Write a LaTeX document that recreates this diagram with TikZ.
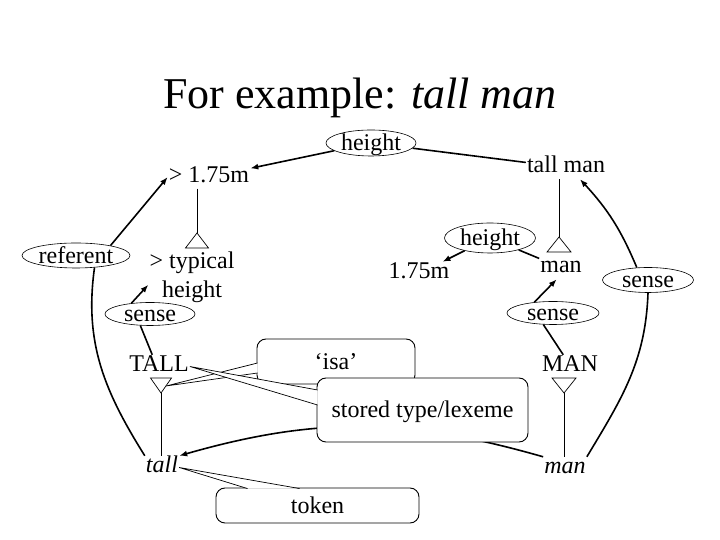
\documentclass[tikz,border=0pt]{standalone}
\usepackage{fontspec}
\setmainfont{Liberation Serif}
\usetikzlibrary{shapes.geometric, arrows.meta, calc}

\begin{document}
\begin{tikzpicture}[x=1pt, y=1pt,
        word/.style={font=\fontsize{24}{29}\selectfont, inner sep=1pt, text height=16pt, text depth=5pt},
        rel/.style={ellipse, draw, fill=white, line width=0.6pt, font=\fontsize{24}{29}\selectfont, inner xsep=0pt, inner ysep=-2pt, text height=18pt, text depth=2pt, minimum width=91pt, minimum height=25pt},
        note/.style={rectangle, draw, fill=white, line width=0.9pt, rounded corners=9pt, font=\fontsize{24}{29}\selectfont, text height=18pt, text depth=2pt},
        relline/.style={line width=1.6pt},
        arrline/.style={relline, -{Latex[length=8pt, width=6pt]}},
        isa/.style={line width=0.7pt},
        pointer/.style={line width=0.7pt, fill=white}]

    \useasboundingbox (0,0) rectangle (720,540);

    % Title
    \node[font=\fontsize{44}{50}\selectfont, anchor=base] (title) at (360,431) {For example: \textit{tall man}};

    % Words and concepts
    \node[word, anchor=base] (gt175) at (209,357.5) {> 1.75m};
    \node[word, anchor=base] (tallman) at (566,367) {tall man};
    \node[font=\fontsize{24}{29}\selectfont, inner sep=1pt, align=center] (gttyp) at (192,263) {> typical\\height};
    \node[word, anchor=base] (v175) at (419,261) {1.75m};
    \node[word, anchor=base] (man) at (561,267) {man};
    \node[word, anchor=base] (TALL) at (159,168) {TALL};
    \node[word, anchor=base] (MAN) at (570,168) {MAN};
    \node[word, anchor=base] (tall) at (162,67) {\textit{tall}};
    \node[word, anchor=base] (manw) at (565,66) {\textit{man}};

    % Relation labels
    \node[rel, minimum width=90pt, minimum height=26pt] (heightA) at (371,397) {height};
    \node[rel, minimum width=108pt] (referent) at (76,284.5) {referent};
    \node[rel, minimum width=90pt, minimum height=23pt] (senseA) at (150,226) {sense};
    \node[rel, minimum height=30pt] (heightB) at (490,302) {height};
    \node[rel, minimum width=92pt, minimum height=23pt] (senseB) at (553,227) {sense};
    \node[rel] (senseC) at (648,260) {sense};

    % Isa triangles
    \coordinate (isaA) at (197,307);
    \coordinate (isaB) at (559,303);
    \coordinate (isaC) at (161,147);
    \coordinate (isaD) at (564,147);
    \draw[isa] (isaA |- gt175.south) -- (isaA);
    \draw[isa] (isaA) -- ++(-11.5,-15) -- ++(23,0) -- cycle;
    \draw[isa] (isaB |- tallman.south) -- (isaB);
    \draw[isa] (isaB) -- ++(-12,-15) -- ++(24,0) -- cycle;
    \draw[isa] (isaC) -- (isaC |- tall.north);
    \draw[isa] (isaC) -- ++(-10.5,15) -- ++(21,0) -- cycle;
    \draw[isa] (isaD) -- (isaD |- manw.north);
    \draw[isa] (isaD) -- ++(-12,15) -- ++(24,0) -- cycle;

    % Relations
    \draw[arrline] (heightA) -- (gt175);
    \draw[relline] (tallman) -- (heightA);
    \draw[relline] (tall.north west) to[out=122, in=-98] (referent.-33);
    \draw[arrline] (referent.16) -- (gt175.west);
    \draw[relline] (TALL.120) -- (senseA.230);
    \draw[arrline] (senseA.150) -- (gttyp.190);
    \draw[relline] (manw.north east) to[out=59, in=-92] (senseC.south);
    \draw[arrline] (senseC.132) to[bend right=10] (tallman.-40);
    \draw[relline] (man) -- (heightB);
    \draw[arrline] (heightB) -- (v175);
    \draw[relline] (MAN.120) -- (senseB.230);
    \draw[arrline] (senseB.150) -- (man.-110);
    \draw[arrline] (manw.north west) to[out=164, in=16] (tall.north east);

    % Callouts
    \node[note, minimum width=158pt, minimum height=45pt] (isabox) at (336,178.5) {‘isa’};
    \draw[pointer] ($(isabox.west)+(1,-1.5)$) -- ($(isaC)+(5,7)$) -- ($(isabox.west)+(1,-11.5)$);
    \node[note, minimum width=211pt, minimum height=64pt] (storedbox) at (422.5,130) {stored type/lexeme};
    \draw[pointer] ($(storedbox.west)+(1,20)$) -- (TALL.east) -- ($(storedbox.west)+(1,5)$);
    \node[note, minimum width=203pt, minimum height=35pt] (tokenbox) at (317.5,34.5) {token};
    \draw[pointer] ($(tokenbox.north)+(-70,-1)$) -- (tall.east) -- ($(tokenbox.north)+(-18,-1)$);

\end{tikzpicture}
\end{document}
